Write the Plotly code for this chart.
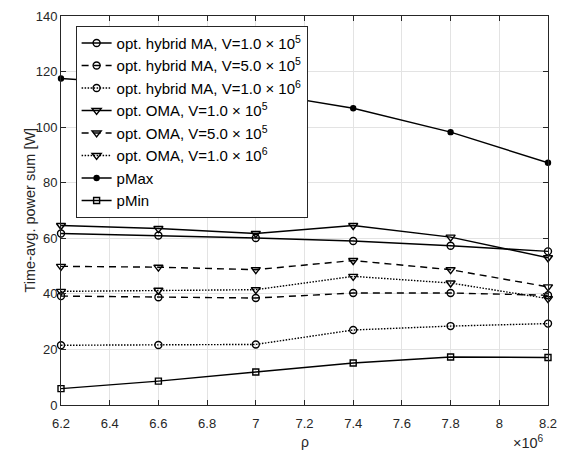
import plotly.graph_objects as go

rho = [6.2e6, 6.6e6, 7.0e6, 7.4e6, 7.8e6, 8.2e6]

hyb_1e5 = [61.7, 61.0, 60.1, 59.0, 57.3, 55.3]
hyb_5e5 = [39.2, 38.8, 38.5, 40.3, 40.3, 39.5]
hyb_1e6 = [21.5, 21.6, 21.8, 27.0, 28.4, 29.3]
oma_1e5 = [64.6, 63.5, 61.7, 64.6, 60.4, 53.0]
oma_5e5 = [49.9, 49.6, 48.7, 52.0, 48.7, 42.5]
oma_1e6 = [40.9, 41.3, 41.5, 46.3, 43.9, 38.3]
p_max = [117.5, 115.2, 112.6, 106.8, 98.2, 87.2]
p_min = [5.9, 8.6, 11.9, 15.1, 17.3, 17.1]

x_tickvals = [6.2e6, 6.4e6, 6.6e6, 6.8e6, 7.0e6, 7.2e6, 7.4e6, 7.6e6, 7.8e6, 8.0e6, 8.2e6]
x_ticktext = ["6.2", "6.4", "6.6", "6.8", "7", "7.2", "7.4", "7.6", "7.8", "8", "8.2"]
y_tickvals = [0, 20, 40, 60, 80, 100, 120, 140]

series = [
    ("opt. hybrid MA, V=1.0 \u00d7 10<sup>5</sup>", hyb_1e5, "solid", "circle-open", 7),
    ("opt. hybrid MA, V=5.0 \u00d7 10<sup>5</sup>", hyb_5e5, "7px,5px", "circle-open", 7),
    ("opt. hybrid MA, V=1.0 \u00d7 10<sup>6</sup>", hyb_1e6, "1.5px,1.5px", "circle-open", 7),
    ("opt. OMA, V=1.0 \u00d7 10<sup>5</sup>", oma_1e5, "solid", "triangle-down-open", 8),
    ("opt. OMA, V=5.0 \u00d7 10<sup>5</sup>", oma_5e5, "7px,5px", "triangle-down-open", 8),
    ("opt. OMA, V=1.0 \u00d7 10<sup>6</sup>", oma_1e6, "1.5px,1.5px", "triangle-down-open", 8),
    ("pMax", p_max, "solid", "circle", 5),
    ("pMin", p_min, "solid", "square-open", 6),
]

FONT = "Liberation Sans, Arial, sans-serif"

fig = go.Figure()
for name, vals, dash, sym, size in series:
    fig.add_trace(go.Scatter(
        x=rho, y=vals, name=name, mode="lines+markers", cliponaxis=False,
        line=dict(color="black", width=1.4, dash=dash),
        marker=dict(symbol=sym, size=size, color="black",
                    line=dict(color="black", width=1.4)),
    ))

axis_common = dict(
    showline=True, linecolor="#262626", linewidth=1, mirror="ticks",
    ticks="inside", ticklen=5, tickcolor="#262626",
    showgrid=True, gridcolor="#e3e3e3", gridwidth=1, zeroline=False,
    ticklabeloverflow="allow",
    tickfont=dict(family=FONT, size=13, color="#262626"),
)

fig.update_layout(
    width=566, height=450,
    margin=dict(l=61, r=9, t=15, b=45),
    paper_bgcolor="white", plot_bgcolor="white",
    font=dict(family=FONT, size=13, color="#262626"),
    showlegend=True,
    legend=dict(
        x=0.03, y=0.975, xanchor="left", yanchor="top",
        bgcolor="white", bordercolor="#262626", borderwidth=1,
        font=dict(family=FONT, size=15, color="black"),
        tracegroupgap=0, itemwidth=30,
    ),
    xaxis=dict(range=[6.2e6, 8.2e6], tickvals=x_tickvals, ticktext=x_ticktext,
               ticklabelstandoff=6, **axis_common),
    yaxis=dict(range=[0, 140], tickvals=y_tickvals, **axis_common),
    annotations=[
        dict(text="\u00d710<sup>6</sup>", xref="paper", yref="paper",
             x=1.0, y=0, xanchor="right", yanchor="bottom", xshift=-2, yshift=-48,
             showarrow=False, font=dict(family=FONT, size=14.5, color="#262626")),
        dict(text="\u03c1", xref="paper", yref="paper",
             x=0.5, y=0, xanchor="center", yanchor="top", yshift=-27,
             showarrow=False, font=dict(family=FONT, size=14, color="#262626")),
        dict(text="Time-avg. power sum [W]", xref="paper", yref="paper",
             x=0, y=0.5, xanchor="center", yanchor="middle", xshift=-32,
             textangle=-90, showarrow=False,
             font=dict(family=FONT, size=14.5, color="#262626")),
    ],
)

fig.write_html("out.html", config={"displayModeBar": False},
               post_script="document.body.style.margin='0';")
